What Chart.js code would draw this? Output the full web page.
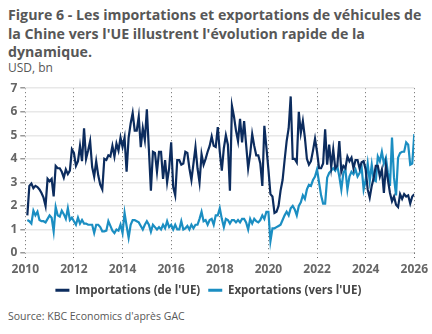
<!DOCTYPE html>
<html><head><meta charset="utf-8">
<script src="https://cdn.jsdelivr.net/npm/chart.js@4"></script>
<style>
html,body{margin:0;padding:0;background:#fff;width:432px;height:334px;overflow:hidden;font-family:"Open Sans",sans-serif}
#title{position:absolute;left:8px;top:6px;width:424px;font-weight:700;font-size:14.2px;line-height:18.5px;color:#575757}
#unit{position:absolute;left:8px;top:59px;font-size:12px;color:#575757}
#src{position:absolute;left:8px;top:309px;font-size:10.5px;color:#575757}
#wrap{position:absolute;left:0;top:78px;width:432px;height:228px}
</style></head><body>
<div id="title">Figure 6 - Les importations et exportations de véhicules de la Chine vers l'UE illustrent l'évolution rapide de la dynamique.</div>
<div id="unit">USD, bn</div>
<div id="wrap"><canvas id="c"></canvas></div>
<div id="src">Source: KBC Economics d'après GAC</div>
<script>
// Monthly data, January 2010 to December 2025 (USD bn)
const startYear = 2010;
const seriesNames = ["Importations (de l'UE)", "Exportations (vers l'UE)"];
const importations = [
1.6,2.85,2.95,2.75,2.85,2.8,2.7,2.55,2.35,2.0,3.15,3.05,
3.15,2.4,3.7,3.6,3.6,3.45,3.2,3.55,3.35,3.5,4.4,4.25,
3.7,3.9,4.55,3.9,5.3,4.0,4.35,4.75,3.65,3.25,3.9,3.3,
2.9,2.7,4.0,3.95,4.15,4.1,4.55,4.1,4.65,4.35,4.9,4.5,
4.9,3.45,4.9,5.5,5.95,5.2,5.2,5.8,4.5,5.3,4.8,6.1,
4.4,2.65,4.3,4.25,3.45,4.3,4.3,3.15,3.95,3.0,3.6,4.7,
2.8,2.45,3.95,3.95,3.75,3.8,4.3,4.25,3.6,3.1,3.8,4.5,
3.6,3.0,4.2,3.75,4.0,4.3,4.55,4.95,4.55,4.5,5.35,4.3,
3.5,4.45,5.0,4.6,2.65,6.25,5.8,5.2,4.75,5.7,4.7,5.6,
4.6,3.6,4.2,5.05,4.55,4.15,4.15,3.8,2.85,5.4,4.5,3.55,
2.5,2.4,1.7,1.75,2.0,2.65,3.1,3.95,4.75,5.3,6.65,4.0,
4.0,3.85,6.0,5.1,5.6,4.9,4.0,3.75,3.9,4.35,4.85,4.3,
3.6,3.6,3.8,5.25,3.75,4.6,3.65,4.4,3.6,3.7,4.75,3.45,
3.7,3.6,4.1,3.9,4.05,3.6,3.95,3.95,3.6,3.85,3.9,3.55,
2.7,2.35,2.85,3.2,3.7,3.7,3.25,3.55,2.55,3.7,3.1,2.55,
2.2,2.4,2.05,1.95,2.5,2.3,2.5,2.4,2.45,2.1,2.4,2.5];
const exportations = [
1.4,1.35,1.25,1.8,1.6,1.75,1.4,1.35,1.35,1.3,1.45,1.6,
1.5,0.92,1.95,1.6,1.55,1.8,1.65,1.45,1.9,1.4,1.5,1.35,
1.2,1.5,1.25,1.4,1.25,1.25,1.2,1.2,1.2,0.85,1.2,1.2,
1.1,0.92,0.92,0.95,1.35,1.15,0.95,0.85,1.0,0.95,1.2,0.85,
1.7,1.15,0.65,1.2,1.4,1.4,1.35,1.3,1.15,1.0,1.2,1.35,
1.2,0.9,1.2,1.1,1.0,1.1,1.0,1.2,1.05,1.35,1.1,1.2,
1.0,1.2,1.0,1.0,1.35,1.0,1.05,1.15,1.0,1.2,1.05,1.2,
1.2,1.45,1.75,1.35,1.4,1.2,1.4,1.45,1.2,1.6,1.6,1.9,
1.45,1.1,1.45,1.4,1.25,1.4,1.4,1.3,1.4,1.3,1.45,1.45,
1.3,1.0,1.45,1.25,1.45,1.35,1.3,1.4,1.6,1.45,1.75,1.75,
0.5,1.05,1.05,1.1,1.15,1.2,1.4,1.6,1.75,1.6,1.9,2.0,
1.85,1.6,2.0,2.15,2.45,2.3,2.7,2.9,2.85,3.1,3.25,3.55,
3.0,2.45,2.1,2.1,3.2,3.4,3.5,3.6,3.5,3.7,3.25,2.7,
3.4,3.55,2.7,3.25,3.45,3.35,3.55,3.25,3.4,3.65,2.7,3.1,
3.8,3.05,3.75,3.1,3.05,4.1,3.9,4.3,3.8,4.05,3.4,2.85,
4.9,3.2,2.45,4.05,4.25,4.3,4.3,4.7,4.6,3.75,3.8,5.05];
const xTickYears = [2010,2012,2014,2016,2018,2020,2022,2024,2026];
const yTicks = [0,1,2,3,4,5,6,7];

// month positions (end of month) derived from the index
const toPts = arr => arr.map((v,i)=>({x: startYear + (i+1)/12, y: v}));
const colImp = '#0c2c5e', colExp = '#1b8ec2';

new Chart(document.getElementById('c'), {
  type: 'line',
  data: { datasets: [
    {label: seriesNames[0], data: toPts(importations), borderColor: colImp, backgroundColor: colImp, borderWidth: 2.2, pointRadius: 0, tension: 0},
    {label: seriesNames[1], data: toPts(exportations), borderColor: colExp, backgroundColor: colExp, borderWidth: 2.2, pointRadius: 0, tension: 0}
  ]},
  options: {
    responsive: true, maintainAspectRatio: false, animation: false,
    layout: {padding: {left: 0, right: 15.3, top: 8, bottom: 0}},
    plugins: {
      tooltip: {enabled: false},
      legend: {position: 'bottom', labels: {
        boxWidth: 14, boxHeight: 3, padding: 8, color: '#454545',
        font: {family: '"Open Sans"', size: 11.5, weight: 'bold'},
        generateLabels: ch => Chart.defaults.plugins.legend.labels.generateLabels(ch).map(l => Object.assign(l, {lineWidth: 0}))
      }}
    },
    scales: {
      x: {type: 'linear', min: xTickYears[0], max: xTickYears[xTickYears.length-1],
        afterBuildTicks: s => { s.ticks = xTickYears.map(v => ({value: v})); },
        ticks: {callback: v => String(v), color: '#666', padding: 4, maxRotation: 0, autoSkip: false,
          font: {family: '"Open Sans"', size: 12, weight: 'bold'}},
        grid: {color: '#666', lineWidth: 1, tickLength: 5, tickColor: '#666', tickBorderDash: [1,3]},
        border: {display: false, dash: [1,3]},
        afterFit: s => { s.height = 23.5; }
      },
      y: {min: 0, max: 7,
        afterBuildTicks: s => { s.ticks = yTicks.map(v => ({value: v})); },
        ticks: {color: '#666', padding: 3, font: {family: '"Open Sans"', size: 12, weight: 'bold'}},
        grid: {color: '#e8e8e8', lineWidth: 1.5, tickLength: 5, tickColor: '#999'},
        border: {display: false},
        afterFit: s => { s.width = 25.3; }
      }
    }
  }
});
</script>
</body></html>
